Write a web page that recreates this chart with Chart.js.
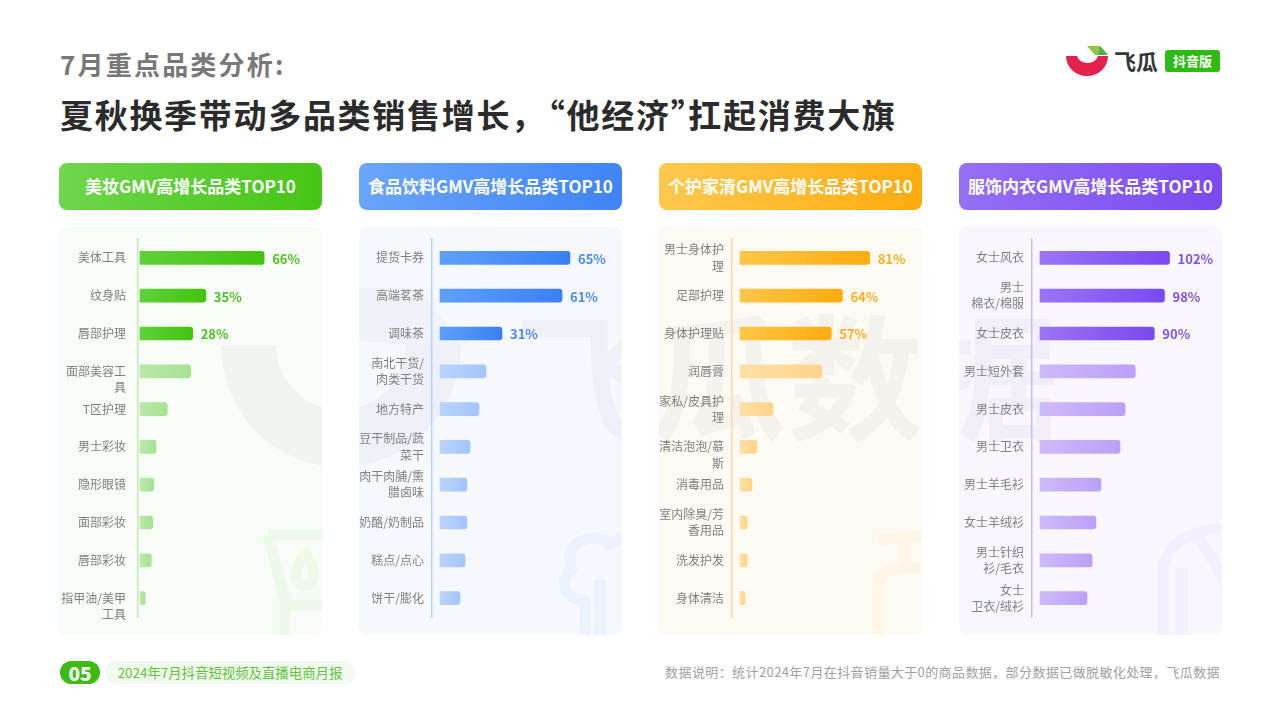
<!DOCTYPE html>
<html lang="zh">
<head>
<meta charset="utf-8">
<title>7月重点品类分析</title>
<script src="https://cdn.jsdelivr.net/npm/chart.js@4"></script>
<style>
  * { margin: 0; padding: 0; box-sizing: border-box; }
  html, body { width: 1280px; height: 720px; background: #fff; overflow: hidden; }
  body { position: relative; font-family: "Noto Sans CJK SC", "Noto Sans", sans-serif; }
  .abs { position: absolute; white-space: nowrap; }
  #sub { left: 60px; top: 45px; font-size: 26px; line-height: 38px; font-weight: 700; color: #787878; letter-spacing: 2.2px; }
  #title { left: 60px; top: 91px; font-size: 33px; line-height: 46px; font-weight: 700; color: #2b2b2b; letter-spacing: 1.7px; text-spacing-trim: space-all; }
  .head { position: absolute; top: 163px; width: 263px; height: 47px; border-radius: 8px; color: #fff; font-size: 17px; font-weight: 700; line-height: 46px; text-align: center; }
  .panel { position: absolute; top: 226px; width: 263px; height: 409px; border-radius: 8px; }
  #decor { position: absolute; left: 0; top: 0; }
  canvas { position: absolute; top: 226px; }
  #pageNo { left: 60px; top: 661px; width: 40px; height: 23px; border-radius: 12px; background: #3dbb14; color: #fff; font-size: 19px; font-weight: 900; line-height: 23px; text-align: center; }
  #report { left: 105px; top: 661px; width: 250px; height: 23px; border-radius: 12px; background: #f1f9ee; color: #62c23f; font-size: 13.4px; line-height: 23px; text-align: center; }
  #note { right: 60px; top: 662px; font-size: 13px; line-height: 20px; color: #a0a0a0; letter-spacing: 0.4px; text-spacing-trim: space-all; }
  #logoName { left: 1114px; top: 43px; font-size: 22px; line-height: 34px; font-weight: 700; color: #33363b; }
  #logoTag { left: 1165px; top: 50px; width: 55px; height: 22px; border-radius: 3px; background: #2fbb13; color: #fff; font-size: 13px; font-weight: 700; line-height: 22px; text-align: center; }
</style>
</head>
<body>

<div class="abs" id="sub">7月重点品类分析:</div>
<div class="abs" id="title">夏秋换季带动多品类销售增长&#xFF0C;<span style="margin-left:-14px">“</span>他经济<span style="margin-right:-17px">”</span>扛起消费大旗</div>

<svg class="abs" style="left:1060px;top:40px" width="56" height="40" viewBox="0 0 56 40">
  <path d="M6 16 A21 20 0 0 0 48 16 L38 16 A11 10 0 0 1 17 16 Z" fill="#e2224d"/>
  <path d="M27 6 L40 6 L48 15 L35 15 Z" fill="#8fc73e"/>
  <path d="M40 6 L48 15 L38 15 Z" fill="#4caf50"/>
</svg>
<div class="abs" id="logoName">飞瓜</div>
<div class="abs" id="logoTag">抖音版</div>

<div class="head" style="left:59px;background:linear-gradient(100deg,#6fd64e,#45c514)">美妆GMV高增长品类TOP10</div>
<div class="head" style="left:359px;background:linear-gradient(100deg,#6aa6fb,#3f83f6)">食品饮料GMV高增长品类TOP10</div>
<div class="head" style="left:659px;background:linear-gradient(100deg,#ffc94f,#ffab0e)">个护家清GMV高增长品类TOP10</div>
<div class="head" style="left:959px;background:linear-gradient(100deg,#9670f6,#7a49f0)">服饰内衣GMV高增长品类TOP10</div>

<div class="panel" style="left:59px;background:#f8fcf6"></div>
<div class="panel" style="left:359px;background:#f5f9fe"></div>
<div class="panel" style="left:659px;background:#fdf9f3"></div>
<div class="panel" style="left:959px;background:#f9f6fe"></div>

<!-- watermark and corner icons, only visible inside the panels -->
<svg id="decor" width="1280" height="720">
  <defs>
    <clipPath id="panelClip">
      <rect x="59" y="226" width="263" height="409" rx="8"/>
      <rect x="359" y="226" width="263" height="409" rx="8"/>
      <rect x="659" y="226" width="263" height="409" rx="8"/>
      <rect x="959" y="226" width="263" height="409" rx="8"/>
    </clipPath>
  </defs>
  <g clip-path="url(#panelClip)">
    <path d="M221 345 A120 122 0 0 0 461 345 L406 345 A65 65 0 0 1 276 345 Z" fill="rgba(90,90,120,0.05)"/>
    <path d="M343 288 L420 288 L461 345 L406 345 L343 340 Z" fill="rgba(90,90,120,0.035)"/>
    <text x="515" y="430" font-size="136" font-weight="700" fill="rgba(90,90,120,0.05)" font-family="Noto Sans CJK SC">飞瓜数据</text>
    <g fill="none" stroke-width="11" stroke-linejoin="round">
      <path d="M268 535 L330 535 M268 535 L285 600 L285 640 M285 605 L330 605" stroke="rgba(70,190,40,0.05)"/>
      <path d="M305 553 C294 570 292 582 305 586 C318 582 316 570 305 553 Z" stroke="rgba(70,190,40,0.05)"/>
      <path d="M585 640 L585 600 C560 600 560 575 572 570 C560 540 600 530 610 545 C620 535 630 540 630 545" stroke="rgba(60,120,240,0.05)"/>
      <path d="M600 640 L600 580" stroke="rgba(60,120,240,0.05)"/>
      <path d="M878 540 L930 535 M905 535 L905 568 M878 640 L878 590 C878 570 895 568 905 568 L930 568" stroke="rgba(255,180,30,0.06)"/>
      <path d="M1163 640 L1163 565 C1170 545 1185 530 1230 528 M1182 640 L1182 568 M1198 535 L1230 590" stroke="rgba(120,80,240,0.04)"/>
    </g>
  </g>
</svg>

<canvas id="chart1" width="263" height="409" style="left:59px"></canvas>
<canvas id="chart2" width="263" height="409" style="left:359px"></canvas>
<canvas id="chart3" width="263" height="409" style="left:659px"></canvas>
<canvas id="chart4" width="263" height="409" style="left:959px"></canvas>

<div class="abs" id="pageNo">05</div>
<div class="abs" id="report">2024年7月抖音短视频及直播电商月报</div>
<div class="abs" id="note">数据说明&#xFF1A;统计2024年7月在抖音销量大于0的商品数据&#xFF0C;部分数据已做脱敏化处理&#xFF0C;飞瓜数据</div>

<script>
// a leading '' puts the first line of a wrapped label level with its bar
const beautyCats = ['美体工具', '纹身贴', '唇部护理', ['', '面部美容工', '具'], 'T区护理', '男士彩妆', '隐形眼镜', '面部彩妆', '唇部彩妆', ['', '指甲油/美甲', '工具']];
const beautyVals = [66, 35, 28, 27, 14.5, 8.5, 7.3, 6.8, 6, 2.7];

const foodCats = ['提货卡券', '高端茗茶', '调味茶', ['南北干货/', '肉类干货'], '地方特产', ['豆干制品/蔬', '菜干'], ['肉干肉脯/熏', '腊卤味'], '奶酪/奶制品', '糕点/点心', '饼干/膨化'];
const foodVals = [65, 61, 31, 23, 19.5, 15, 13.5, 13.5, 12.5, 10];

const careCats = [['男士身体护', '理'], '足部护理', '身体护理贴', '润唇膏', ['家私/皮具护', '理'], ['', '清洁泡泡/慕', '斯'], '消毒用品', ['室内除臭/芳', '香用品'], '洗发护发', '身体清洁'];
const careVals = [81, 64, 57, 51, 20.5, 10.5, 7.5, 4.5, 4.5, 3];

const clothesCats = ['女士风衣', ['男士', '棉衣/棉服'], '女士皮衣', '男士短外套', '男士皮衣', '男士卫衣', '男士羊毛衫', '女士羊绒衫', ['男士针织', '衫/毛衣'], ['女士', '卫衣/绒衫']];
const clothesVals = [102, 98, 90, 75, 67, 63, 48, 44, 41, 37];

const labelledBars = 3; // only the first three bars are highlighted and carry a value

// writes the percentage to the right of the highlighted bars
const valueLabels = {
    id: 'valueLabels',
    afterDatasetsDraw(chart, args, opts) {
        const ctx = chart.ctx;
        const bars = chart.getDatasetMeta(0).data;
        ctx.save();
        ctx.font = 'bold 13px "Noto Sans CJK SC"';
        ctx.fillStyle = opts.color;
        ctx.textAlign = 'left';
        ctx.textBaseline = 'middle';
        for (let i = 0; i < labelledBars; i++) {
            ctx.fillText(chart.data.datasets[0].data[i] + '%', bars[i].x + 8, bars[i].y + 1);
        }
        ctx.restore();
    }
};

function criarGrafico(id, cats, vals, o) {
    return new Chart(document.getElementById(id), {
        type: 'bar',
        data: {
            labels: cats,
            datasets: [{
                data: vals,
                barThickness: 13,
                borderRadius: 3,
                backgroundColor(c) {
                    const chart = c.chart;
                    if (!chart.chartArea || !chart.scales.x) return o.to;
                    const x0 = chart.scales.x.getPixelForValue(0);
                    const x1 = chart.scales.x.getPixelForValue(vals[c.dataIndex]);
                    const g = chart.ctx.createLinearGradient(x0, 0, x1, 0);
                    const faded = c.dataIndex >= labelledBars;
                    g.addColorStop(0, faded ? o.fadeFrom : o.from);
                    g.addColorStop(1, faded ? o.fadeTo : o.to);
                    return g;
                }
            }]
        },
        options: {
            indexAxis: 'y',
            responsive: false,
            animation: false,
            layout: { autoPadding: false, padding: { top: 13, bottom: 18, right: 8 } },
            plugins: {
                legend: { display: false },
                tooltip: { enabled: false },
                valueLabels: { color: o.text }
            },
            scales: {
                x: { display: false, min: o.min, max: o.max },
                y: {
                    // fixed axis width, and no extra room for tall first/last labels,
                    // so all four plots share the same height
                    afterFit(scale) {
                        scale.width = o.axis;
                        scale.paddingTop = 0;
                        scale.paddingBottom = 0;
                    },
                    grid: { display: false, drawTicks: false },
                    border: { color: o.line, width: 1.5 },
                    ticks: {
                        autoSkip: false,
                        padding: o.pad,
                        color: '#7f7f7f',
                        font: { family: '"Noto Sans CJK SC"', size: 12, lineHeight: 1.35 }
                    }
                }
            }
        },
        plugins: [valueLabels]
    });
}

criarGrafico('chart1', beautyCats, beautyVals, {
    axis: 79, pad: 12, min: -1.06, max: 92.5, line: '#c6e6b8', text: '#4cc224',
    from: '#5fd03a', to: '#41c40f', fadeFrom: '#b9e8a8', fadeTo: '#a6e292'
});
criarGrafico('chart2', foodCats, foodVals, {
    axis: 73, pad: 8, min: -4, max: 87, line: '#b9d2fb', text: '#4a88f0',
    from: '#5f9ffa', to: '#3a80f5', fadeFrom: '#b9d3fb', fadeTo: '#a4c5fa'
});
criarGrafico('chart3', careCats, careVals, {
    axis: 73, pad: 8, min: -5, max: 108.7, line: '#f6dda6', text: '#ffb01c',
    from: '#ffc648', to: '#ffac10', fadeFrom: '#fde0a4', fadeTo: '#fdd48a'
});
criarGrafico('chart4', clothesCats, clothesVals, {
    axis: 73, pad: 8, min: -6.3, max: 137, line: '#c8b9ef', text: '#7d52e8',
    from: '#9a74f6', to: '#7a49f0', fadeFrom: '#cdbaf9', fadeTo: '#bba0f7'
});
</script>
</body>
</html>
